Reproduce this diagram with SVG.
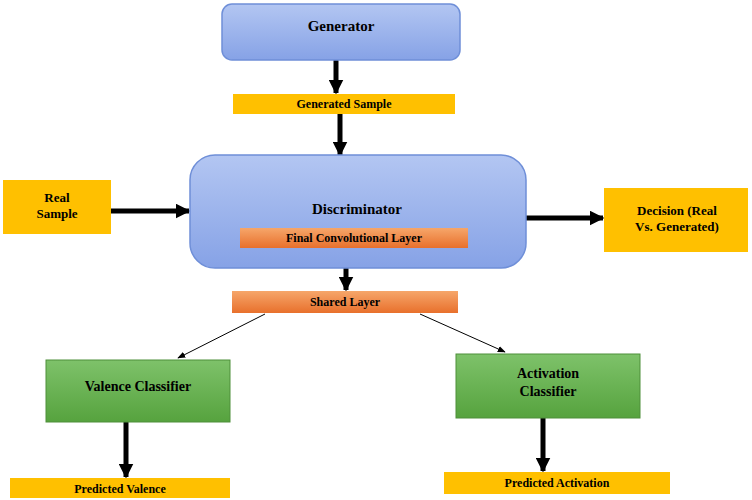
<svg xmlns="http://www.w3.org/2000/svg" width="752" height="500" viewBox="0 0 752 500">
<defs>
<linearGradient id="gb" x1="0" y1="0" x2="0" y2="1"><stop offset="0" stop-color="#b3c6f2"/><stop offset="1" stop-color="#86a2e6"/></linearGradient>
<linearGradient id="go" x1="0" y1="0" x2="0" y2="1"><stop offset="0" stop-color="#f6a66a"/><stop offset="1" stop-color="#e8702c"/></linearGradient>
<linearGradient id="gg" x1="0" y1="0" x2="0" y2="1"><stop offset="0" stop-color="#7ec26a"/><stop offset="1" stop-color="#56a33e"/></linearGradient>
<marker id="ah" viewBox="0 0 10 10" refX="9" refY="5" markerWidth="3" markerHeight="3" orient="auto"><path d="M0,0L10,5L0,10z" fill="#000"/></marker>
<marker id="ahs" viewBox="0 0 10 10" refX="9" refY="5" markerWidth="8" markerHeight="8" orient="auto"><path d="M0,1L10,5L0,9z" fill="#000"/></marker>
</defs>
<style>
text{font-family:"Liberation Serif",serif;font-weight:bold;fill:#000;text-anchor:middle}
.b{fill:url(#gb);stroke:#6f8fd8;stroke-width:1.5}
.y{fill:#ffc000}
.o{fill:url(#go)}
.g{fill:url(#gg);stroke:#4f8f3a;stroke-width:1}
.t{stroke:#000;stroke-width:5;marker-end:url(#ah)}
.n{stroke:#000;stroke-width:1;marker-end:url(#ahs)}
</style>
<g id="connectors">
<line class="t" x1="336" y1="60" x2="336" y2="93"/>
<line class="t" x1="340" y1="114" x2="340" y2="155"/>
<line class="t" x1="346" y1="248" x2="346" y2="290"/>
<line class="t" x1="111" y1="211" x2="189" y2="211"/>
<line class="t" x1="526" y1="218" x2="603" y2="218"/>
<line class="n" x1="265" y1="314" x2="178" y2="358"/>
<line class="n" x1="420" y1="314" x2="505" y2="352"/>
<line class="t" x1="126" y1="422" x2="126" y2="477"/>
<line class="t" x1="543" y1="418" x2="543" y2="471"/>
</g>
<g id="generator"><rect class="b" x="222" y="4" width="238" height="56" rx="10"/><text x="341" y="31" font-size="15">Generator</text></g>
<g id="generated"><rect class="y" x="233" y="94" width="222" height="20"/><text x="344" y="108" font-size="12">Generated Sample</text></g>
<g id="discriminator"><rect class="b" x="190" y="155" width="336" height="113" rx="25"/><text x="357" y="214" font-size="15">Discriminator</text></g>
<g id="finalconv"><rect class="o" x="240" y="228" width="228" height="20"/><text x="354" y="242" font-size="12">Final Convolutional Layer</text></g>
<g id="shared"><rect class="o" x="232" y="291" width="226" height="22"/><text x="345" y="306" font-size="12">Shared Layer</text></g>
<g id="real"><rect class="y" x="3" y="180" width="108" height="54"/><text x="57" y="202" font-size="13">Real</text><text x="57" y="218" font-size="13">Sample</text></g>
<g id="decision"><rect class="y" x="604" y="188" width="144" height="64"/><text x="677" y="215" font-size="13">Decision (Real</text><text x="677" y="231" font-size="13">Vs. Generated)</text></g>
<g id="valence"><rect class="g" x="46" y="360" width="184" height="62"/><text x="138" y="391" font-size="14">Valence Classifier</text></g>
<g id="activation"><rect class="g" x="456" y="354" width="184" height="64"/><text x="548" y="378" font-size="14">Activation</text><text x="548" y="396" font-size="14">Classifier</text></g>
<g id="predval"><rect class="y" x="10" y="478" width="220" height="20"/><text x="120" y="493" font-size="12">Predicted Valence</text></g>
<g id="predact"><rect class="y" x="444" y="472" width="226" height="22"/><text x="557" y="487" font-size="12">Predicted Activation</text></g>
</svg>
